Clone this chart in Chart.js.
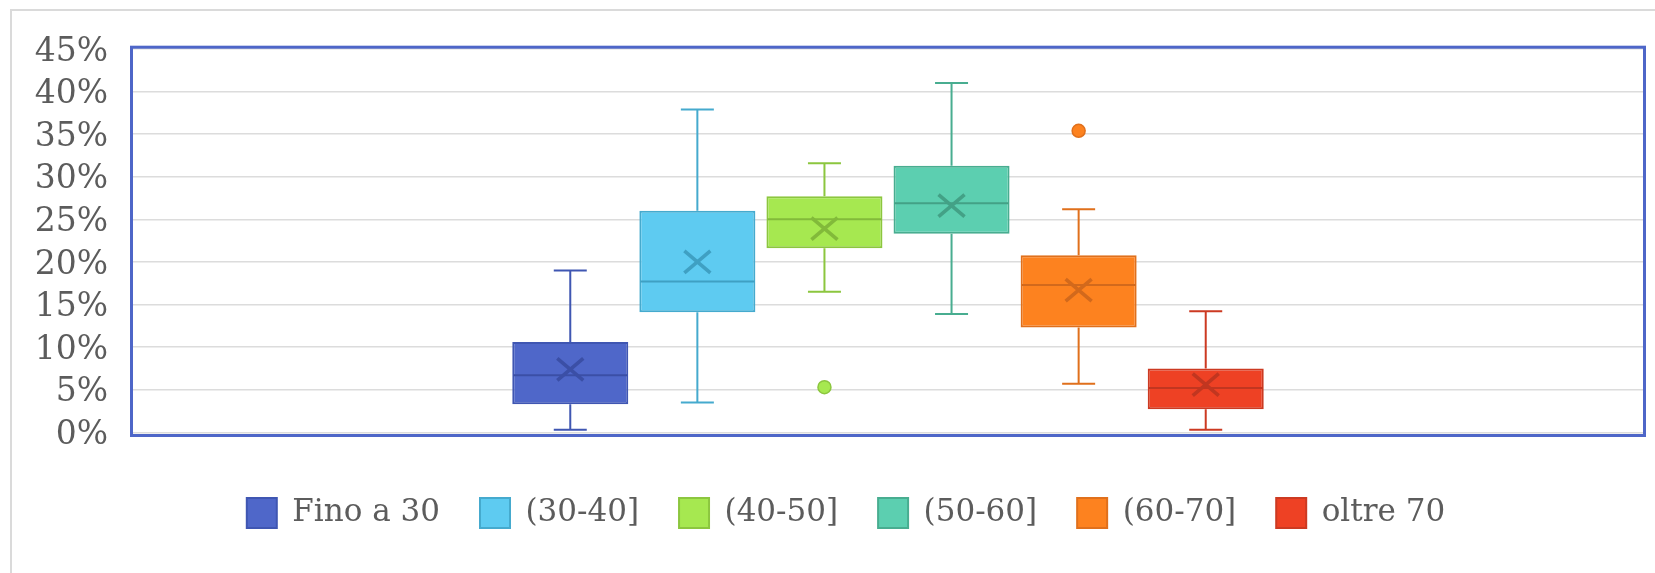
<!DOCTYPE html>
<html><head><meta charset="utf-8">
<script src="https://cdn.jsdelivr.net/npm/chart.js@4.4.1/dist/chart.umd.min.js"></script>
<style>
html,body{margin:0;padding:0;background:#fff;}
#wrap{position:relative;width:1655px;height:573px;overflow:hidden;background:#fff;}
#frame{position:absolute;left:10px;top:9px;width:1700px;height:700px;border-left:2px solid #dadada;border-top:2px solid #dadada;}
canvas{position:absolute;left:0;top:0;}
</style></head><body>
<div id="wrap"><div id="frame"></div><canvas id="c" width="1655" height="573" style="width:1655px;height:573px"></canvas></div>
<script>
// ---- data (percent) ----
const categories = ['Fino a 30', '(30-40]', '(40-50]', '(50-60]', '(60-70]', 'oltre 70'];
const mins    = [0.3, 3.5, 16.5, 13.9, 5.7, 0.3];
const q1      = [3.3, 14.1, 21.6, 23.3, 12.3, 2.7];
const medians = [6.7, 17.7, 25.0, 26.9, 17.3, 5.2];
const q3      = [10.6, 26.0, 27.7, 31.3, 20.8, 7.5];
const maxs    = [19.0, 37.9, 31.6, 41.0, 26.2, 14.2];
const means   = [7.4, 20.0, 23.9, 26.6, 16.7, 5.6];
const outliers = [[], [], [5.3], [], [35.4], []];
const yTicks = [0, 5, 10, 15, 20, 25, 30, 35, 40, 45];

// ---- styles ----
const fillColors = ['#4f67c9', '#5ecbf1', '#a6e850', '#5ccfb0', '#fd821f', '#ee4124'];
const lineColors = ['#3f56b2', '#45aace', '#8cc63f', '#48ad90', '#e0701c', '#cc3a22'];
const markColors = ['#3b4fa6', '#3fa0c3', '#82ba3a', '#43a186', '#d2691c', '#c13620'];
const FONT = 'DejaVu Serif';
const TEXT = '#5c5c5c';

const boxExtras = {
  id: 'boxExtras',
  afterLayout(chart) {
    const lg = chart.legend;
    if (lg) { lg.left = 49; lg.width = lg.right - lg.left; }
  },
  beforeDatasetsDraw(chart) {
    const ctx = chart.ctx, ys = chart.scales.y;
    chart.data.datasets.forEach((ds, i) => {
      const bar = chart.getDatasetMeta(i).data[0];
      const {x} = bar.getProps(['x'], true);
      const cap = 16.5;
      const pMin = ys.getPixelForValue(mins[i]), pMax = ys.getPixelForValue(maxs[i]);
      const pQ1 = ys.getPixelForValue(q1[i]), pQ3 = ys.getPixelForValue(q3[i]);
      ctx.save();
      ctx.strokeStyle = lineColors[i];
      ctx.lineWidth = 2;
      ctx.beginPath();
      ctx.moveTo(x, pQ1); ctx.lineTo(x, pMin);
      ctx.moveTo(x, pQ3); ctx.lineTo(x, pMax);
      ctx.moveTo(x - cap, pMin); ctx.lineTo(x + cap, pMin);
      ctx.moveTo(x - cap, pMax); ctx.lineTo(x + cap, pMax);
      ctx.stroke();
      ctx.restore();
    });
  },
  afterDatasetsDraw(chart) {
    const ctx = chart.ctx, ys = chart.scales.y, a = chart.chartArea;
    chart.data.datasets.forEach((ds, i) => {
      const bar = chart.getDatasetMeta(i).data[0];
      const {x, width} = bar.getProps(['x', 'width'], true);
      ctx.save();
      const pMed = ys.getPixelForValue(medians[i]);
      ctx.strokeStyle = markColors[i];
      ctx.lineWidth = 2;
      ctx.beginPath();
      ctx.moveTo(x - width / 2 + 1, pMed); ctx.lineTo(x + width / 2 - 1, pMed);
      ctx.stroke();
      const pMean = ys.getPixelForValue(means[i]);
      ctx.lineWidth = 3.6;
      ctx.beginPath();
      ctx.moveTo(x - 13, pMean - 11); ctx.lineTo(x + 13, pMean + 11);
      ctx.moveTo(x - 13, pMean + 11); ctx.lineTo(x + 13, pMean - 11);
      ctx.stroke();
      outliers[i].forEach(v => {
        const py = ys.getPixelForValue(v);
        ctx.beginPath();
        ctx.arc(x, py, 6.5, 0, Math.PI * 2);
        ctx.fillStyle = fillColors[i];
        ctx.fill();
        ctx.lineWidth = 1.5;
        ctx.strokeStyle = lineColors[i];
        ctx.stroke();
      });
      ctx.restore();
    });
    ctx.save();
    ctx.strokeStyle = '#4e66c8';
    ctx.lineWidth = 3;
    ctx.strokeRect(a.left - 1.5, a.top - 1.8, a.right - a.left + 3, a.bottom - a.top + 5);
    ctx.restore();
  }
};

new Chart(document.getElementById('c'), {
  type: 'bar',
  data: {
    labels: [''],
    datasets: categories.map((name, i) => ({
      label: name,
      data: [[q1[i], q3[i]]],
      backgroundColor: fillColors[i],
      borderColor: lineColors[i],
      borderWidth: 2,
      borderSkipped: false
    }))
  },
  options: {
    responsive: false,
    animation: false,
    devicePixelRatio: 1,
    layout: { padding: { left: 12, right: 12, top: 49, bottom: 34.5 } },
    datasets: { bar: { categoryPercentage: 0.505, barPercentage: 0.913 } },
    plugins: {
      tooltip: { enabled: false },
      legend: {
        position: 'bottom',
        labels: {
          boxWidth: 30, boxHeight: 30, padding: 40,
          font: { family: FONT, size: 31 },
          color: TEXT
        }
      }
    },
    scales: {
      x: {
        grid: { display: false },
        border: { display: false },
        ticks: { display: false },
        afterFit(s) { s.height = 25.2; }
      },
      y: {
        min: 0, max: 45,
        afterFit(s) { s.width = 121; },
        afterBuildTicks(s) { s.ticks = yTicks.map(v => ({ value: v })); },
        grid: { color: '#dcdcdc', lineWidth: 1.5, drawTicks: false },
        border: { display: false },
        ticks: {
          autoSkip: false,
          padding: 25,
          labelOffset: 3,
          font: { family: FONT, size: 33 },
          color: TEXT,
          callback: v => v + '%'
        }
      }
    }
  },
  plugins: [boxExtras]
});
</script>
</body></html>
